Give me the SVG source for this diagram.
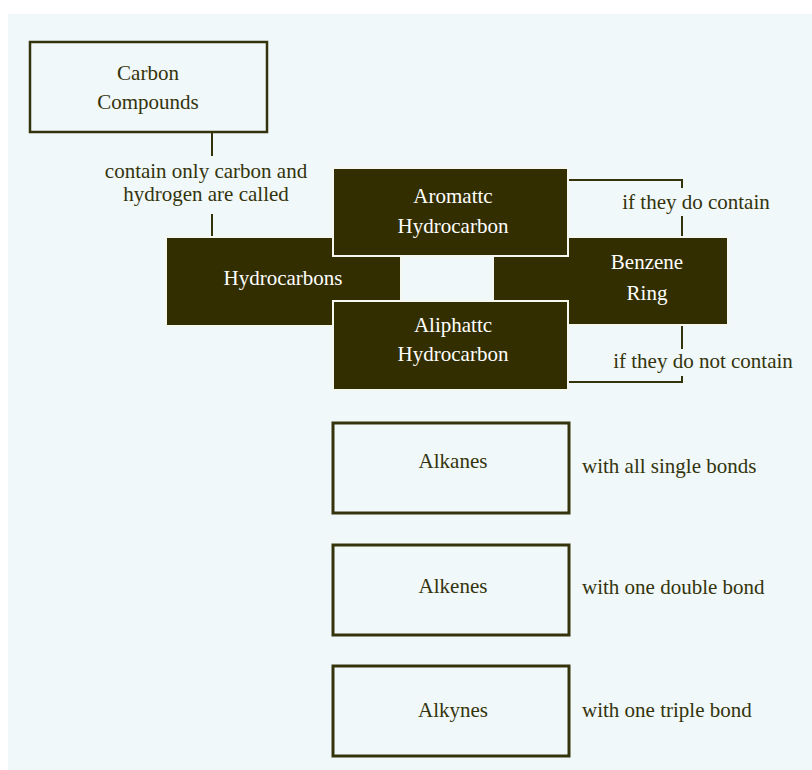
<svg xmlns="http://www.w3.org/2000/svg" width="812" height="770" viewBox="0 0 812 770">
<style>
text{font-family:"Liberation Serif","Times New Roman",serif;font-size:21px;text-anchor:middle}
.t{fill:#34340c}
.w{fill:#ffffff}
.l{text-anchor:start}
.box{fill:#f0f8fa;stroke:#34340c;stroke-width:3}
.dark{fill:#332e00;stroke:#f4f8f0;stroke-width:2}
.c{fill:none;stroke:#34340c;stroke-width:2}
</style>
<rect x="0" y="0" width="812" height="770" fill="#ffffff"/>
<rect x="8" y="14" width="804" height="756" fill="#f0f8fa"/>
<g id="connectors">
<path class="c" d="M212 132V156"/>
<path class="c" d="M212 214V238"/>
<path class="c" d="M567 180H682V188"/>
<path class="c" d="M682 216V238"/>
<path class="c" d="M682 324V349"/>
<path class="c" d="M682 376V382H567"/>
<text class="t" x="206" y="178">contain only carbon and</text>
<text class="t" x="206" y="201">hydrogen are called</text>
<text class="t" x="696" y="209">if they do contain</text>
<text class="t" x="703" y="368">if they do not contain</text>
</g>
<g id="carbon-compounds">
<rect class="box" x="30" y="42" width="237" height="90" style="stroke-width:2.5"/>
<text class="t" x="148" y="80">Carbon</text>
<text class="t" x="148" y="109">Compounds</text>
</g>
<g id="hydrocarbons">
<rect class="dark" x="166" y="237" width="235" height="89"/>
<text class="w" x="283" y="285">Hydrocarbons</text>
</g>
<g id="benzene-ring">
<rect class="dark" x="493" y="237" width="235" height="88"/>
<text class="w" x="647" y="269">Benzene</text>
<text class="w" x="647" y="300">Ring</text>
</g>
<g id="aromatic-hydrocarbon">
<rect class="dark" x="333" y="168" width="235" height="88"/>
<text class="w" x="453" y="203">Aromattc</text>
<text class="w" x="453" y="233">Hydrocarbon</text>
</g>
<g id="aliphatic-hydrocarbon">
<rect class="dark" x="333" y="301" width="235" height="89"/>
<text class="w" x="453" y="332">Aliphattc</text>
<text class="w" x="453" y="361">Hydrocarbon</text>
</g>
<g id="alkanes">
<rect class="box" x="333" y="423" width="236" height="90"/>
<text class="t" x="453" y="468">Alkanes</text>
<text class="t l" x="582" y="473">with all single bonds</text>
</g>
<g id="alkenes">
<rect class="box" x="333" y="545" width="236" height="90"/>
<text class="t" x="453" y="593">Alkenes</text>
<text class="t l" x="582" y="594">with one double bond</text>
</g>
<g id="alkynes">
<rect class="box" x="333" y="666" width="236" height="90"/>
<text class="t" x="453" y="717">Alkynes</text>
<text class="t l" x="582" y="717">with one triple bond</text>
</g>
</svg>
